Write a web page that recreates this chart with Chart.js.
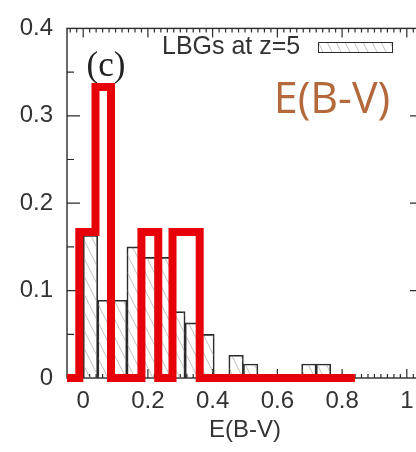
<!DOCTYPE html>
<html>
<head>
<meta charset="utf-8">
<script src="https://cdn.jsdelivr.net/npm/chart.js@4.4.1/dist/chart.umd.min.js"></script>
<style>
  html, body { margin: 0; padding: 0; background: #fff; overflow: hidden; }
  #wrap { width: 416px; height: 452px; overflow: hidden; }
  canvas { display: block; }
</style>
</head>
<body>
<div id="wrap"><canvas id="chart" width="440" height="452"></canvas></div>
<script>
// E(B-V) histograms: LBGs at z=5 (hatched boxes) and our sample (thick red steps)
const lbgBinLeft = [0, 0.045, 0.09, 0.135, 0.18, 0.225, 0.27, 0.315, 0.36, 0.405, 0.45, 0.495, 0.54, 0.585, 0.63, 0.675, 0.72];
const lbgFractions = [0.163, 0.089, 0.089, 0.150, 0.138, 0.138, 0.076, 0.063, 0.050, 0, 0.026, 0.016, 0, 0, 0, 0.016, 0.016];
const lbgBinWidth = 0.045;

const sampleEdges = [-0.05, -0.012, 0.038, 0.086, 0.18, 0.232, 0.276, 0.36, 0.84];
const sampleFractions = [0, 0.167, 0.333, 0, 0.167, 0, 0.167, 0];

const xTicks = [0, 0.2, 0.4, 0.6, 0.8, 1];
const xTickLabels = ['0', '0.2', '0.4', '0.6', '0.8', '1'];
const yTicks = [0, 0.1, 0.2, 0.3, 0.4];
const yTickLabels = ['0', '0.1', '0.2', '0.3', '0.4'];

const legendLabel = 'LBGs at z=5';
const panelTag = '(c)';
const panelNote = 'E(B-V)';

const RED = 'rgb(230,2,8)';
const INK = '#2b2b2b';
const SANS = "'Liberation Sans', Arial, sans-serif";

function makeHatch() {
    const c = document.createElement('canvas');
    c.width = 9;
    c.height = 18;
    const g = c.getContext('2d');
    g.strokeStyle = 'rgba(150,150,150,0.6)';
    g.lineWidth = 1;
    g.beginPath();
    g.moveTo(-1, -2); g.lineTo(10, 20);
    g.moveTo(-10, -2); g.lineTo(1, 20);
    g.moveTo(8, -2); g.lineTo(19, 20);
    g.stroke();
    return g.createPattern(c, 'repeat');
}
const hatch = makeHatch();

// frame with inward ticks on all four sides, plus the panel tag
const framePlugin = {
    id: 'frame',
    beforeDatasetsDraw(chart) {
        const { ctx, chartArea: a, scales: { x, y } } = chart;
        ctx.save();
        ctx.strokeStyle = INK;
        ctx.lineWidth = 1.4;
        ctx.strokeRect(a.left, a.top, a.right - a.left, a.bottom - a.top);

        ctx.lineWidth = 1.2;
        ctx.beginPath();
        for (let k = -2; k <= 52; k++) {
            const v = k * 0.02;
            const px = x.getPixelForValue(v);
            const len = k % 10 === 0 ? 9 : 4;
            ctx.moveTo(px, a.bottom); ctx.lineTo(px, a.bottom - len);
            ctx.moveTo(px, a.top); ctx.lineTo(px, a.top + len);
        }
        for (let k = 1; k < 8; k++) {
            const py = y.getPixelForValue(k * 0.05);
            const len = k % 2 === 0 ? 13 : 7;
            ctx.moveTo(a.left, py); ctx.lineTo(a.left + len, py);
            ctx.moveTo(a.right, py); ctx.lineTo(a.right - len, py);
        }
        ctx.stroke();

        ctx.fillStyle = '#222';
        ctx.font = "35px 'Liberation Serif', 'Times New Roman', serif";
        ctx.textAlign = 'center';
        ctx.textBaseline = 'middle';
        ctx.fillText(panelTag, 106, 67);
        ctx.restore();
    },
    afterDatasetsDraw(chart) {
        const { ctx } = chart;
        ctx.save();
        // key for the hatched histogram
        ctx.fillStyle = '#333';
        ctx.font = '25px ' + SANS;
        ctx.textAlign = 'left';
        ctx.textBaseline = 'middle';
        ctx.fillText(legendLabel, 162, 47);
        ctx.fillStyle = '#fff';
        ctx.fillRect(318, 42, 75, 11);
        ctx.fillStyle = hatch;
        ctx.fillRect(318, 42, 75, 11);
        ctx.strokeStyle = INK;
        ctx.lineWidth = 1;
        ctx.strokeRect(318.5, 42.5, 74, 10);

        ctx.fillStyle = '#b4693c';
        ctx.font = "43px 'Open Sans', 'Noto Sans', sans-serif";
        ctx.textAlign = 'center';
        ctx.fillText(panelNote, 332, 101);
        ctx.restore();
    }
};

const ctx = document.getElementById('chart').getContext('2d');

new Chart(ctx, {
    type: 'bar',
    data: {
        datasets: [{
            type: 'line',
            label: 'sample',
            data: sampleEdges.map((e, i) => ({ x: e, y: sampleFractions[Math.min(i, sampleFractions.length - 1)] })),
            stepped: 'before',
            borderColor: RED,
            borderWidth: 8,
            borderJoinStyle: 'miter',
            pointRadius: 0,
            fill: false,
            clip: false
        }, {
            type: 'bar',
            label: legendLabel,
            data: lbgBinLeft.map((l, i) => ({ x: l + lbgBinWidth / 2, y: lbgFractions[i] })),
            backgroundColor: hatch,
            borderColor: INK,
            borderWidth: 1,
            barPercentage: 1,
            categoryPercentage: 1,
            grouped: false
        }]
    },
    options: {
        responsive: false,
        animation: false,
        devicePixelRatio: 1,
        layout: { padding: { left: 0, top: 24, right: 17, bottom: 0 } },
        plugins: {
            legend: { display: false },
            tooltip: { enabled: false }
        },
        scales: {
            x: {
                type: 'linear',
                min: -0.05,
                max: 1.05,
                offset: false,
                afterBuildTicks: s => { s.ticks = xTicks.map(v => ({ value: v })); },
                afterFit: s => { s.height = 74; },
                grid: { display: false, drawTicks: false, offset: false },
                border: { display: false },
                ticks: {
                    autoSkip: false,
                    maxRotation: 0,
                    padding: 9,
                    color: '#333',
                    font: { family: SANS, size: 24 },
                    callback: (v, i) => xTickLabels[i]
                },
                title: {
                    display: true,
                    text: 'E(B-V)',
                    color: '#333',
                    font: { family: SANS, size: 24 },
                    padding: { top: 0, bottom: 7 }
                }
            },
            y: {
                min: 0,
                max: 0.4,
                afterBuildTicks: s => { s.ticks = yTicks.map(v => ({ value: v })); },
                afterFit: s => { s.width = 67; },
                grid: { display: false, drawTicks: false },
                border: { display: false },
                ticks: {
                    padding: 14,
                    color: '#333',
                    font: { family: SANS, size: 24 },
                    callback: (v, i) => yTickLabels[i]
                }
            }
        }
    },
    plugins: [framePlugin]
});
</script>
</body>
</html>
